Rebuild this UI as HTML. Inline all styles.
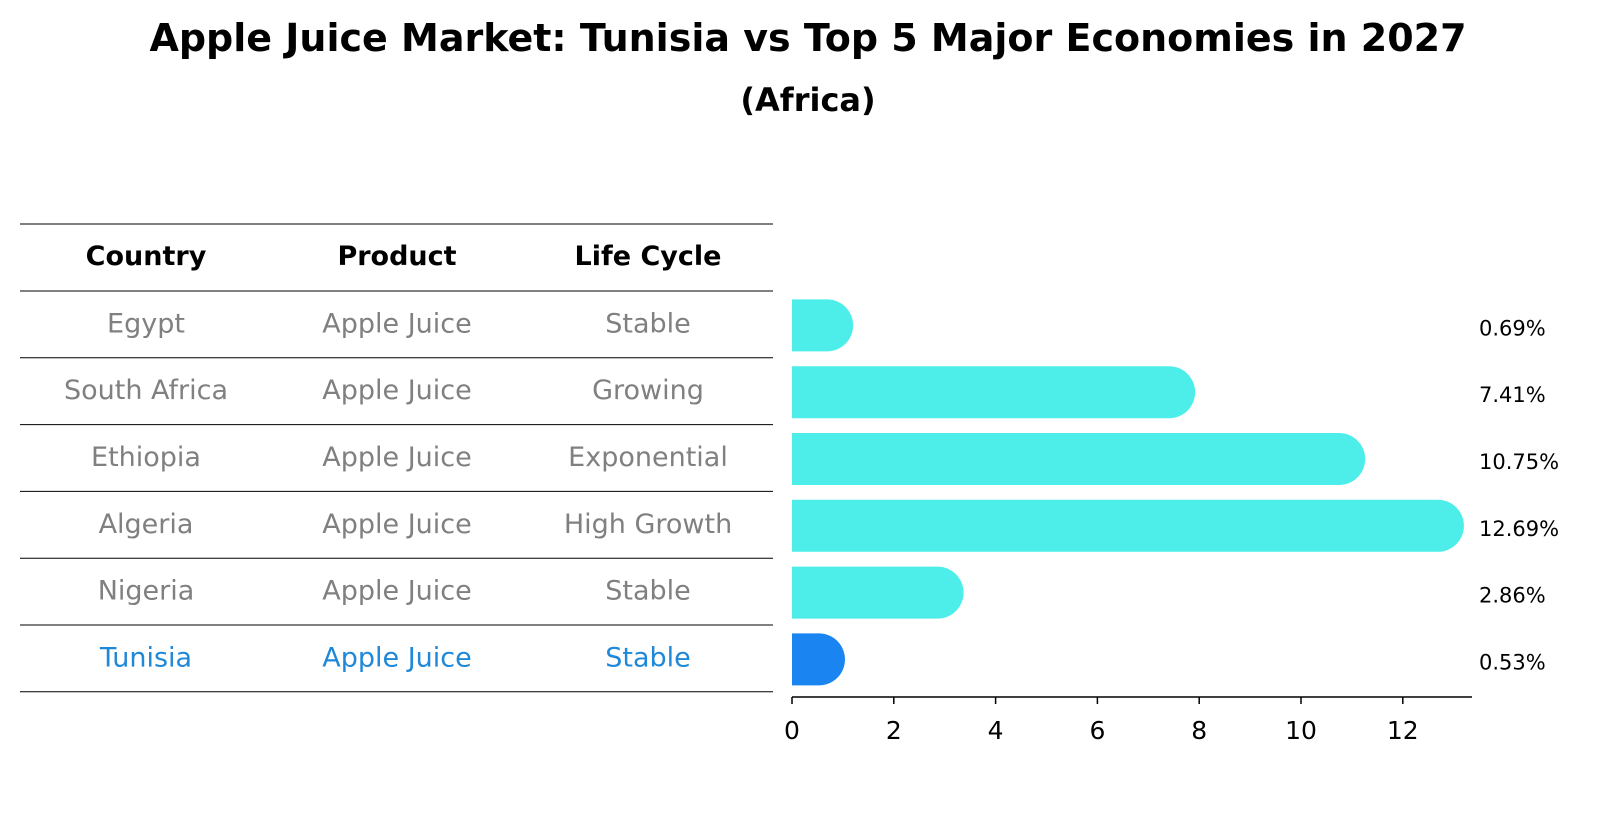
<!DOCTYPE html>
<html><head><meta charset="utf-8"><style>
body{margin:0;background:#fff;font-family:"DejaVu Sans","Liberation Sans",sans-serif;}
</style></head><body>
<svg width="1604" height="823" viewBox="0 0 1604 823" id="svg">
<text x="808" y="51" text-anchor="middle" font-size="38" font-weight="bold">Apple Juice Market: Tunisia vs Top 5 Major Economies in 2027</text>
<text x="808" y="111" text-anchor="middle" font-size="32" font-weight="bold">(Africa)</text>
<g id="table"></g>
<g id="bars"></g>
</svg>
<script>
const countries=["Egypt","South Africa","Ethiopia","Algeria","Nigeria","Tunisia"];
const products=["Apple Juice","Apple Juice","Apple Juice","Apple Juice","Apple Juice","Apple Juice"];
const lifeCycles=["Stable","Growing","Exponential","High Growth","Stable","Stable"];
const values=[0.69,7.41,10.75,12.69,2.86,0.53];
const xTicks=[0,2,4,6,8,10,12];
const NS="http://www.w3.org/2000/svg";
function mk(t,a,p){const e=document.createElementNS(NS,t);for(const k in a)e.setAttribute(k,a[k]);p.appendChild(e);return e;}
const tbl=document.getElementById('table'),bars=document.getElementById('bars');
const x0=792,unit=50.9,rowTop=291,rowH=66.8,barH=52;
const xs=v=>x0+v*unit;
const cols=[146,397,648];
let hl=mk('line',{x1:20,x2:773,y1:224,y2:224,stroke:'#000','stroke-width':1},tbl);

["Country","Product","Life Cycle"].forEach((h,i)=>{const t=mk('text',{x:cols[i],y:265,'text-anchor':'middle','font-size':27,'font-weight':'bold'},tbl);t.textContent=h;
});
for(let i=0;i<=countries.length;i++){const l=mk('line',{x1:20,x2:773,y1:rowTop+i*rowH,y2:rowTop+i*rowH,stroke:'#000','stroke-width':1},tbl);
}
countries.forEach((c,i)=>{const col=i===countries.length-1?'#1f88d8':'#808080';const cy=rowTop+i*rowH+rowH/2+8;
[c,products[i],lifeCycles[i]].forEach((s,j)=>{const t=mk('text',{x:cols[j],y:cy,'text-anchor':'middle','font-size':27,fill:col},tbl);t.textContent=s;
});
const by=rowTop+i*rowH+rowH/2-barH/2+1;const r=barH/2;const xe=xs(values[i]);
const fill=i===countries.length-1?'#1a84f0':'#4deee9';
const p=mk('path',{d:`M${x0},${by} H${xe} A${r},${r} 0 0 1 ${xe},${by+barH} H${x0} Z`,fill:fill},bars);

const lt=mk('text',{x:1479,y:cy+3,'font-size':21},bars);lt.textContent=values[i].toFixed(2)+'%';
});
const ax=mk('line',{x1:x0,x2:1472,y1:697,y2:697,stroke:'#000','stroke-width':1.5},bars);

xTicks.forEach(v=>{const tk=mk('line',{x1:xs(v),x2:xs(v),y1:697,y2:704,stroke:'#000','stroke-width':1.5},bars);

const t=mk('text',{x:xs(v),y:739,'text-anchor':'middle','font-size':25},bars);t.textContent=v;
});
</script>
</body></html>
